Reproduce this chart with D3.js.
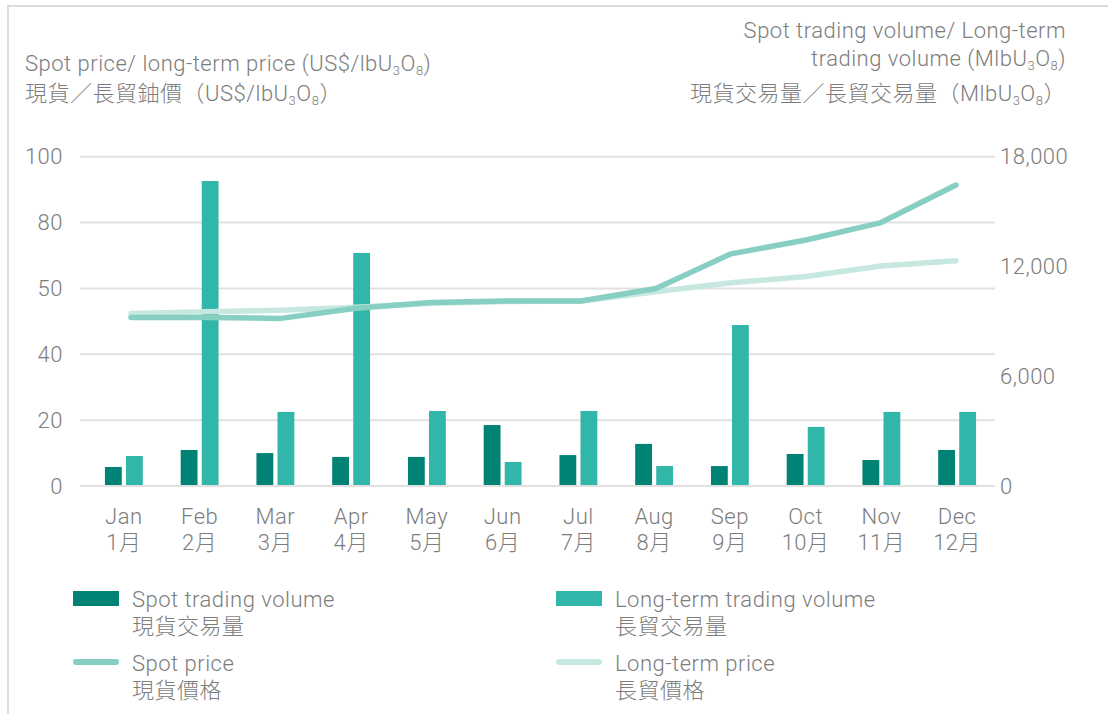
<!DOCTYPE html>
<html>
<head>
<meta charset="utf-8">
<script src="https://cdn.jsdelivr.net/npm/d3@7"></script>
<style>
  html, body { margin: 0; padding: 0; background: #ffffff; }
  svg text { font-family: Roboto, "Liberation Sans", "Noto Sans CJK TC", sans-serif; font-weight: 300; fill: #7d7d7d; letter-spacing: 0.5px; }
  svg text.cjk { font-family: Roboto, "Noto Sans CJK TC", sans-serif; }
</style>
</head>
<body>
<svg id="chart" width="1108" height="714"></svg>
<script>
// ---- data ----
const monthsEn = ["Jan","Feb","Mar","Apr","May","Jun","Jul","Aug","Sep","Oct","Nov","Dec"];
const monthsZh = ["1月","2月","3月","4月","5月","6月","7月","8月","9月","10月","11月","12月"];
const spotVolume = [1040, 1970, 1800, 1590, 1590, 3330, 1690, 2300, 1090, 1750, 1420, 1970];
const longTermVolume = [1640, 16670, 4050, 12740, 4100, 1310, 4100, 1090, 8800, 3230, 4050, 4050];
const spotPrice = [51.2, 51.2, 50.9, 54.0, 55.7, 56.2, 56.2, 60.0, 70.5, 74.7, 80.0, 91.4];
const longTermPrice = [52.4, 52.9, 53.4, 54.3, 55.5, 56.0, 56.2, 59.0, 61.7, 63.6, 66.8, 68.4];
const leftTickValues = [0, 20, 40, 60, 80, 100];
const leftTickLabels = ["0", "20", "40", "50", "80", "100"];
const rightTickValues = [0, 6000, 12000, 18000];
const rightTickLabels = ["0", "6,000", "12,000", "18,000"];

const colors = {
  spotVol: "#008374",
  ltVol: "#31b6aa",
  spotPrice: "#87cfc3",
  ltPrice: "#c6e8e1",
  grid: "#e1e1e1",
  border: "#dddddd"
};
const FS = 22;

const svg = d3.select("#chart");

// frame
svg.append("path")
  .attr("d", "M8,714 L8,6 L1108,6")
  .attr("fill", "none").attr("stroke", colors.border).attr("stroke-width", 2);

// scales
const yTop = 156.7, yBottom = 486;
const yLeft = d3.scaleLinear().domain([0, 100]).range([yBottom, yTop]);
const yRight = d3.scaleLinear().domain([0, 18000]).range([yBottom, yTop]);
const xBand = d3.scaleBand().domain(monthsEn).range([86, 995]).paddingInner(0.5).paddingOuter(0.25);
const xSub = d3.scaleBand().domain(["spot", "lt"]).range([0, xBand.bandwidth()]).paddingInner(0.2);
const xLine = d3.scalePoint().domain(monthsEn).range([131, 956]);

// gridlines
const grid = svg.append("g");
grid.selectAll("line").data(leftTickValues).join("line")
  .attr("x1", 80).attr("x2", 995)
  .attr("y1", d => yLeft(d)).attr("y2", d => yLeft(d))
  .attr("stroke", colors.grid).attr("stroke-width", 2);

// left axis labels
const leftAxis = svg.append("g").attr("transform", "translate(63,0)")
  .call(d3.axisLeft(yLeft).tickValues(leftTickValues).tickSize(0).tickPadding(0)
    .tickFormat((d, i) => leftTickLabels[i]));
leftAxis.select(".domain").remove();
leftAxis.selectAll("text").attr("font-size", FS).attr("fill", "#7d7d7d")
  .style("font-family", "Roboto, 'Liberation Sans', sans-serif");

// right axis labels
const rightAxis = svg.append("g").attr("transform", "translate(1000,0)")
  .call(d3.axisRight(yRight).tickValues(rightTickValues).tickSize(0).tickPadding(0)
    .tickFormat((d, i) => rightTickLabels[i]));
rightAxis.select(".domain").remove();
rightAxis.selectAll("text").attr("font-size", FS).attr("fill", "#7d7d7d")
  .style("font-family", "Roboto, 'Liberation Sans', sans-serif");

// bars
const barData = monthsEn.map((m, i) => ({ m, spot: spotVolume[i], lt: longTermVolume[i] }));
const groups = svg.append("g").selectAll("g").data(barData).join("g")
  .attr("transform", d => `translate(${xBand(d.m)},0)`);
groups.append("rect")
  .attr("x", xSub("spot")).attr("width", xSub.bandwidth())
  .attr("y", d => yRight(d.spot)).attr("height", d => yRight(0) - yRight(d.spot))
  .attr("fill", colors.spotVol);
groups.append("rect")
  .attr("x", xSub("lt")).attr("width", xSub.bandwidth())
  .attr("y", d => yRight(d.lt)).attr("height", d => yRight(0) - yRight(d.lt))
  .attr("fill", colors.ltVol);

// baseline over bars
svg.append("line").attr("x1", 80).attr("x2", 995)
  .attr("y1", yLeft(0)).attr("y2", yLeft(0))
  .attr("stroke", colors.grid).attr("stroke-width", 2);

// lines
const lineGen = d3.line().x(d => xLine(d.m)).y(d => yLeft(d.v));
svg.append("path")
  .datum(monthsEn.map((m, i) => ({ m, v: longTermPrice[i] })))
  .attr("d", lineGen).attr("fill", "none")
  .attr("stroke", colors.ltPrice).attr("stroke-width", 5.5)
  .attr("stroke-linecap", "round").attr("stroke-linejoin", "round");
svg.append("path")
  .datum(monthsEn.map((m, i) => ({ m, v: spotPrice[i] })))
  .attr("d", lineGen).attr("fill", "none")
  .attr("stroke", colors.spotPrice).attr("stroke-width", 5.5)
  .attr("stroke-linecap", "round").attr("stroke-linejoin", "round");

// x labels
const xl = svg.append("g");
xl.selectAll("text.en").data(monthsEn).join("text").attr("class", "en")
  .attr("x", d => xBand(d) + xBand.bandwidth() / 2).attr("y", 524)
  .attr("text-anchor", "middle").attr("font-size", FS).text(d => d);
xl.selectAll("text.zh").data(monthsZh).join("text").attr("class", "zh cjk")
  .attr("x", (d, i) => xBand(monthsEn[i]) + xBand.bandwidth() / 2).attr("y", 550)
  .attr("text-anchor", "middle").attr("font-size", FS).text(d => d);

// titles with subscripts
function unitText(sel, prefix, close) {
  sel.append("tspan").text(prefix);
  sel.append("tspan").attr("font-size", 13).attr("dy", 4).text("3");
  sel.append("tspan").attr("dy", -4).text("O");
  sel.append("tspan").attr("font-size", 13).attr("dy", 4).text("8");
  sel.append("tspan").attr("dy", -4).text(close);
}
const t1 = svg.append("text").attr("x", 25).attr("y", 71).attr("font-size", FS);
unitText(t1, "Spot price/ long-term price (US$/lbU", ")");
const t2 = svg.append("text").attr("class", "cjk").attr("x", 25).attr("y", 101).attr("font-size", FS);
unitText(t2, "現貨／長貿鈾價（US$/lbU", "）");

svg.append("text").attr("x", 1066).attr("y", 38).attr("font-size", FS)
  .attr("text-anchor", "end").text("Spot trading volume/ Long-term");
const t4 = svg.append("text").attr("x", 1066).attr("y", 66).attr("font-size", FS).attr("text-anchor", "end");
unitText(t4, "trading volume (MlbU", ")");
const t5 = svg.append("text").attr("class", "cjk").attr("x", 1066).attr("y", 101).attr("font-size", FS).attr("text-anchor", "end");
unitText(t5, "現貨交易量／長貿交易量（MlbU", "）");

// legend
const legendItems = [
  { type: "rect", color: colors.spotVol, x: 73, y: 598, en: "Spot trading volume", zh: "現貨交易量" },
  { type: "rect", color: colors.ltVol, x: 556, y: 598, en: "Long-term trading volume", zh: "長貿交易量" },
  { type: "line", color: colors.spotPrice, x: 73, y: 662, en: "Spot price", zh: "現貨價格" },
  { type: "line", color: colors.ltPrice, x: 556, y: 662, en: "Long-term price", zh: "長貿價格" }
];
const lg = svg.append("g");
legendItems.forEach(it => {
  if (it.type === "rect") {
    lg.append("rect").attr("x", it.x).attr("y", it.y - 7).attr("width", 46).attr("height", 15).attr("fill", it.color);
  } else {
    lg.append("line").attr("x1", it.x + 3).attr("x2", it.x + 43).attr("y1", it.y).attr("y2", it.y)
      .attr("stroke", it.color).attr("stroke-width", 6).attr("stroke-linecap", "round");
  }
  lg.append("text").attr("x", it.x + 59).attr("y", it.y + 9).attr("font-size", FS).text(it.en);
  lg.append("text").attr("class", "cjk").attr("x", it.x + 59).attr("y", it.y + 36).attr("font-size", FS).text(it.zh);
});
</script>
</body>
</html>
